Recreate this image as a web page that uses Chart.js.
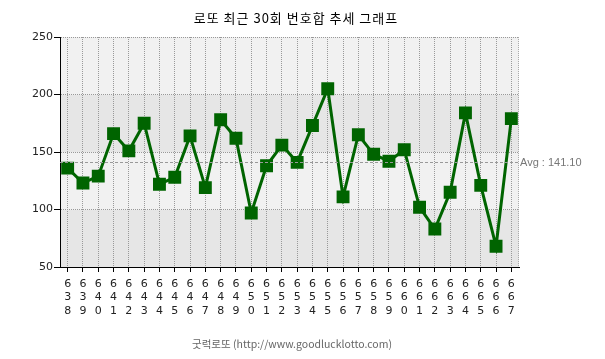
<!DOCTYPE html>
<html>
<head>
<meta charset="utf-8">
<script src="https://cdn.jsdelivr.net/npm/chart.js@4"></script>
<style>
  html, body { margin: 0; padding: 0; background: #fff; }
  #wrap { width: 605px; height: 359px; }
</style>
</head>
<body>
<div id="wrap"><canvas id="sumTrend"></canvas></div>
<script>
const draws = ['638', '639', '640', '641', '642', '643', '644', '645', '646', '647',
    '648', '649', '650', '651', '652', '653', '654', '655', '656', '657',
    '658', '659', '660', '661', '662', '663', '664', '665', '666', '667'];
const sums = [136, 123, 129, 166, 151, 175, 122, 128, 164, 119,
    178, 162, 97, 138, 156, 141, 173, 205, 111, 165,
    148, 142, 152, 102, 83, 115, 184, 121, 68, 179];
const yTicks = [50, 100, 150, 200, 250];

const titleText = '로또 최근 30회 번호합 추세 그래프';
const footerText = '굿럭로또 (http://www.goodlucklotto.com)';

const avg = sums.reduce((a, b) => a + b, 0) / sums.length;
const baseFont = "Tahoma, Verdana, 'DejaVu Sans', 'Noto Sans CJK KR', sans-serif";

// alternating bands, avg line, title/footer
const decor = {
    id: 'decor',
    beforeDraw(chart) {
        const {ctx, chartArea: area, scales: {y}} = chart;
        ctx.save();
        for (let i = 0; i < yTicks.length - 1; i++) {
            const top = y.getPixelForValue(yTicks[i + 1]);
            const bottom = y.getPixelForValue(yTicks[i]);
            ctx.fillStyle = i % 2 === 0 ? '#e6e6e6' : '#f1f1f1';
            ctx.fillRect(area.left, top, area.right - area.left, bottom - top);
        }
        ctx.restore();
    },
    afterDatasetsDraw(chart) {
        const {ctx, chartArea: area, scales: {y}} = chart;
        const ay = Math.round(y.getPixelForValue(avg)) + 0.5;
        ctx.save();
        ctx.strokeStyle = '#999';
        ctx.lineWidth = 1;
        ctx.setLineDash([3, 2]);
        ctx.beginPath();
        ctx.moveTo(area.left, ay);
        ctx.lineTo(area.right, ay);
        ctx.stroke();
        ctx.setLineDash([1, 1]);
        ctx.strokeStyle = '#aaa';
        ctx.beginPath();
        ctx.moveTo(Math.round(area.right) - 0.5, area.top);
        ctx.lineTo(Math.round(area.right) - 0.5, area.bottom);
        ctx.stroke();
        ctx.fillStyle = '#777';
        ctx.font = "11px 'Liberation Sans', Arial, sans-serif";
        ctx.textBaseline = 'middle';
        ctx.fillText('Avg : ' + avg.toFixed(2), area.right + 1, ay);
        ctx.restore();
    },
    afterDraw(chart) {
        const {ctx} = chart;
        ctx.save();
        ctx.textAlign = 'center';
        ctx.textBaseline = 'middle';
        ctx.fillStyle = '#000';
        ctx.font = "13px 'Noto Sans CJK KR', sans-serif";
        ctx.letterSpacing = '1px';
        ctx.fillText(titleText, 296, 18);
        ctx.letterSpacing = '0px';
        ctx.fillStyle = '#666';
        ctx.font = "10.5px 'Noto Sans CJK KR', sans-serif";
        ctx.fillText(footerText, 292, 344);
        ctx.restore();
    }
};

new Chart(document.getElementById('sumTrend'), {
    type: 'line',
    data: {
        labels: draws.map(d => d.split('')),
        datasets: [{
            data: sums,
            borderColor: '#006400',
            backgroundColor: '#006400',
            borderWidth: 3,
            pointStyle: 'rect',
            pointRadius: 7,
            pointHoverRadius: 7,
            tension: 0,
        }]
    },
    options: {
        responsive: true,
        maintainAspectRatio: false,
        animation: false,
        layout: { padding: { top: 37, right: 86, bottom: 0, left: 0 } },
        plugins: {
            legend: { display: false },
            tooltip: { enabled: false },
        },
        scales: {
            x: {
                offset: true,
                grid: {
                    offset: false,
                    color: '#999',
                    tickColor: '#000',
                    tickLength: 5,
                    tickBorderDash: [],
                },
                border: { color: '#000', width: 1, dash: [1, 1] },
                ticks: {
                    color: '#222',
                    font: { family: baseFont, size: 11, lineHeight: 1.25 },
                    padding: 5,
                    maxRotation: 0,
                    autoSkip: false,
                },
                afterFit(scale) { scale.height = 92; },
            },
            y: {
                min: 50,
                max: 250,
                afterBuildTicks(scale) { scale.ticks = yTicks.map(v => ({value: v})); },
                grid: {
                    color: '#999',
                    tickColor: '#000',
                    tickLength: 6,
                    tickBorderDash: [],
                },
                border: { color: '#000', width: 1, dash: [1, 1] },
                ticks: {
                    color: '#222',
                    font: { family: baseFont, size: 11 },
                    padding: 1,
                },
                afterFit(scale) { scale.width = 60; },
            }
        }
    },
    plugins: [decor]
});
</script>
</body>
</html>
